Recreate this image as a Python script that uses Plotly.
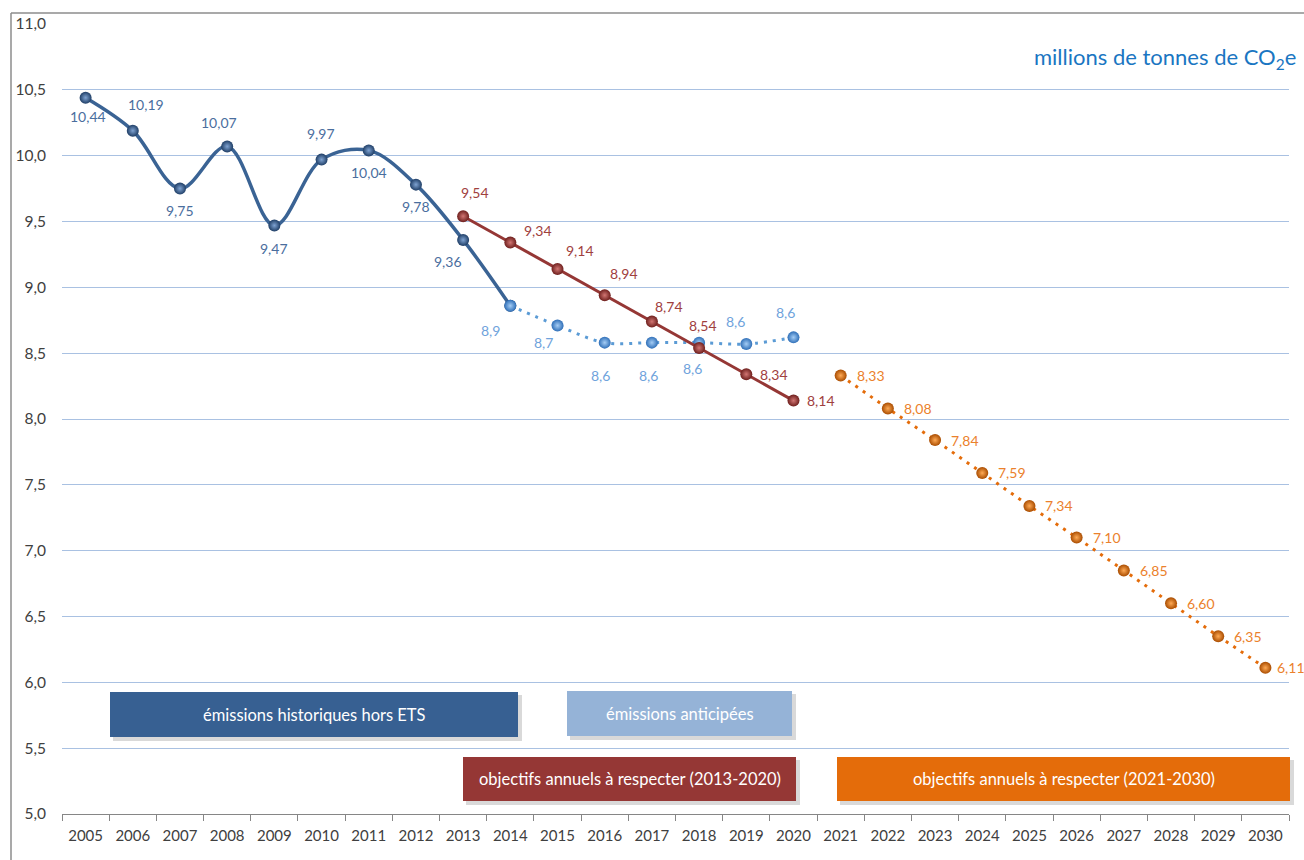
import plotly.graph_objects as go

# ---------------- data ----------------
years = [str(y) for y in range(2005, 2031)]

hist_years = [str(y) for y in range(2005, 2015)]
hist_values = [10.44, 10.19, 9.75, 10.07, 9.47, 9.97, 10.04, 9.78, 9.36, 8.86]

antic_years = [str(y) for y in range(2014, 2021)]
antic_values = [8.86, 8.71, 8.58, 8.58, 8.58, 8.57, 8.62]

obj1_years = [str(y) for y in range(2013, 2021)]
obj1_values = [9.54, 9.34, 9.14, 8.94, 8.74, 8.54, 8.34, 8.14]

obj2_years = [str(y) for y in range(2021, 2031)]
obj2_values = [8.33, 8.08, 7.84, 7.59, 7.34, 7.10, 6.85, 6.60, 6.35, 6.11]

y_ticks = [5.0, 5.5, 6.0, 6.5, 7.0, 7.5, 8.0, 8.5, 9.0, 9.5, 10.0, 10.5, 11.0]

# ---------------- style ----------------
W, H = 1304, 860
L, R, T, B = 62, 15, 24, 46
PW, PH = W - L - R, H - T - B
FONT = "Lato"

C_HIST = "#3A6394"
C_HIST_TXT = "#4A6E9E"
C_ANT = "#5B9BD5"
C_ANT_TXT = "#6FA3DC"
C_OBJ1 = "#953735"
C_OBJ1_TXT = "#A0403E"
C_OBJ2 = "#E46C0A"
C_OBJ2_TXT = "#EB812C"
LBL = 14


def px(xp):
    return (xp - L) / PW


def py(yp):
    return (H - B - yp) / PH


def fmt(v, d):
    return f"{v:.{d}f}".replace(".", ",")


def idx(year):
    return years.index(year)


fig = go.Figure()

fig.add_trace(go.Scatter(
    x=hist_years, y=hist_values, mode="lines+markers",
    line=dict(color=C_HIST, width=3.5, shape="spline", smoothing=1),
    marker=dict(size=12, color="#1F3E66",
                gradient=dict(type="radial", color="#7FA3D2"),
                line=dict(width=0)),
    hoverinfo="skip", showlegend=False))

fig.add_trace(go.Scatter(
    x=antic_years, y=antic_values, mode="lines+markers",
    line=dict(color=C_ANT, width=3, dash="3px,6px", shape="spline", smoothing=1),
    marker=dict(size=12, color="#2F6FB8",
                gradient=dict(type="radial", color="#A5CDF5"),
                line=dict(width=0)),
    hoverinfo="skip", showlegend=False))

fig.add_trace(go.Scatter(
    x=obj1_years, y=obj1_values, mode="lines+markers",
    line=dict(color=C_OBJ1, width=3),
    marker=dict(size=12, color="#6E1F1D",
                gradient=dict(type="radial", color="#D27673"),
                line=dict(width=0)),
    hoverinfo="skip", showlegend=False))

fig.add_trace(go.Scatter(
    x=obj2_years, y=obj2_values, mode="lines+markers",
    line=dict(color=C_OBJ2, width=3, dash="3px,6px"),
    marker=dict(size=12, color="#A94C00",
                gradient=dict(type="radial", color="#FFAA55"),
                line=dict(width=0)),
    hoverinfo="skip", showlegend=False))

annotations = []

# data labels: pixel offsets (dx right, dy down) for each point
hist_off = [(2, 19), (13, -26), (0, 22), (-8, -24), (0, 23), (-1, -26), (0, 22), (0, 22), (-15, 22)]
for (x, v), (dx, dy) in zip(zip(hist_years[:-1], hist_values[:-1]), hist_off):
    annotations.append(dict(x=idx(x), y=v, text=fmt(v, 2), showarrow=False, xshift=dx, yshift=-dy,
                            font=dict(family=FONT, size=LBL, color=C_HIST_TXT)))

ant_off = [(-20, 25), (-14, 17), (-4, 33), (-3, 33), (-7, 26), (-11, -22), (-8, -25)]
for (x, v), (dx, dy) in zip(zip(antic_years, antic_values), ant_off):
    annotations.append(dict(x=idx(x), y=v, text=fmt(v, 1), showarrow=False, xshift=dx, yshift=-dy,
                            font=dict(family=FONT, size=LBL, color=C_ANT_TXT)))

obj1_off = [(12, -24), (28, -12), (22, -18), (19, -22), (17, -15), (4, -22), (28, 0), (28, 0)]
for (x, v), (dx, dy) in zip(zip(obj1_years, obj1_values), obj1_off):
    annotations.append(dict(x=idx(x), y=v, text=fmt(v, 2), showarrow=False, xshift=dx, yshift=-dy,
                            font=dict(family=FONT, size=LBL, color=C_OBJ1_TXT)))

n2 = len(obj2_years)
for i, (x, v) in enumerate(zip(obj2_years, obj2_values)):
    annotations.append(dict(x=idx(x), y=v, text=fmt(v, 2), showarrow=False,
                            xshift=14 if i < n2 - 1 else 10, yshift=0,
                            xanchor="left",
                            font=dict(family=FONT, size=LBL, color=C_OBJ2_TXT)))

# unit title
annotations.append(dict(xref="paper", yref="paper", x=px(1298), y=py(58),
                        xanchor="right", yanchor="middle", showarrow=False,
                        text="millions de tonnes de CO<sub>2</sub>e",
                        font=dict(family=FONT, size=22, color="#1A76C2")))

# legend-like boxes
boxes = [
    (110, 518, 692, 737, "#376092", "émissions historiques hors ETS"),
    (567, 792, 691, 736, "#95B3D7", "émissions anticipées"),
    (463, 796, 757, 801, "#953735", "objectifs annuels à respecter (2013-2020)"),
    (837, 1290, 757, 801, "#E46C0A", "objectifs annuels à respecter (2021-2030)"),
]
shapes = []
for x0, x1, y0, y1, col, txt in boxes:
    shapes.append(dict(type="rect", xref="paper", yref="paper",
                       x0=px(x0 + 3), x1=px(x1 + 4), y0=py(y1 + 4), y1=py(y0 + 3),
                       fillcolor="rgba(0,0,0,0.15)", line=dict(width=0), layer="above"))
    shapes.append(dict(type="rect", xref="paper", yref="paper",
                       x0=px(x0), x1=px(x1), y0=py(y1), y1=py(y0),
                       fillcolor=col, line=dict(width=0), layer="above"))
    annotations.append(dict(xref="paper", yref="paper", x=(px(x0) + px(x1)) / 2,
                            y=(py(y0) + py(y1)) / 2, text=txt, showarrow=False,
                            xanchor="center", yanchor="middle",
                            font=dict(family=FONT, size=16.5, color="white")))

# outer chart border (top and left visible)
shapes.append(dict(type="line", xref="paper", yref="paper",
                   x0=px(11), x1=px(1310), y0=py(13), y1=py(13),
                   line=dict(color="#8C8C8C", width=1.5)))
shapes.append(dict(type="line", xref="paper", yref="paper",
                   x0=px(11), x1=px(11), y0=py(13), y1=py(870),
                   line=dict(color="#8C8C8C", width=1.5)))

fig.update_layout(
    width=W, height=H,
    margin=dict(l=L, r=R, t=T, b=B, autoexpand=False),
    paper_bgcolor="white", plot_bgcolor="white",
    separators=", ",
    font=dict(family=FONT, size=15, color="#404040"),
    annotations=annotations, shapes=shapes,
    xaxis=dict(type="category", categoryorder="array", categoryarray=years,
               range=[-0.5, len(years) - 0.5], tickvals=years, ticktext=years,
               tickson="boundaries", ticks="outside", ticklen=6, tickcolor="#868686",
               showline=True, linecolor="#868686", linewidth=1,
               showgrid=False, zeroline=False, ticklabelstandoff=8,
               tickfont=dict(family=FONT, size=15, color="#404040")),
    yaxis=dict(range=[5, 11], tickvals=y_ticks, tickformat=".1f",
               showgrid=True, gridcolor="#A9C1E2", gridwidth=1,
               zeroline=False, showline=False, ticks="", ticklabelstandoff=15,
               tickfont=dict(family=FONT, size=15.5, color="#404040")),
)

fig.write_html("out.html", config={"displayModeBar": False},
               post_script="document.body.style.margin='0px';document.body.style.overflow='hidden';")
